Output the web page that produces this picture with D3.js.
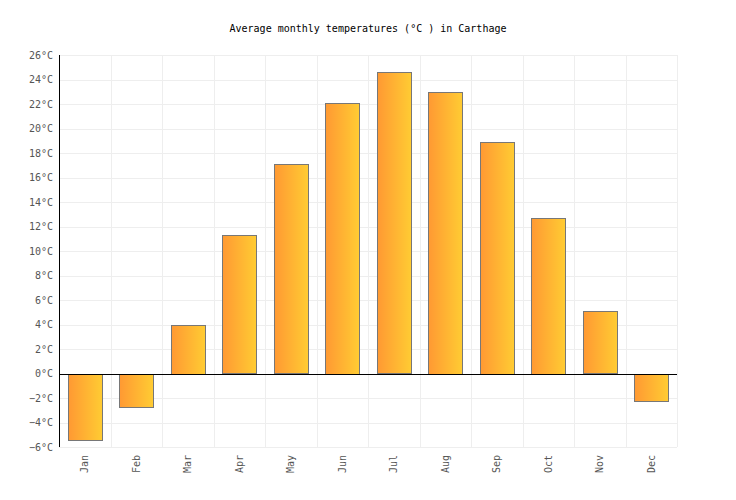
<!DOCTYPE html>
<html>
<head>
<meta charset="utf-8">
<script src="https://cdn.jsdelivr.net/npm/d3@7"></script>
<style>
  body { margin: 0; background: #fff; }
  text { font-family: "DejaVu Sans Mono", monospace; }
</style>
</head>
<body>
<div id="chart"></div>
<script>
// chart data
const months = ["Jan", "Feb", "Mar", "Apr", "May", "Jun", "Jul", "Aug", "Sep", "Oct", "Nov", "Dec"];
const temps = [-5.4, -2.7, 4.0, 11.3, 17.1, 22.1, 24.6, 23.0, 18.9, 12.7, 5.1, -2.2];
const yTicks = [-6, -4, -2, 0, 2, 4, 6, 8, 10, 12, 14, 16, 18, 20, 22, 24, 26];
const title = "Average monthly temperatures (°C ) in Carthage";

const W = 736, H = 500;
const margin = { top: 55, right: 59, bottom: 53, left: 59 };
const width = W - margin.left - margin.right;
const height = H - margin.top - margin.bottom;

const svg = d3.select("#chart").append("svg")
    .attr("width", W)
    .attr("height", H);

// gradient for bars
const grad = svg.append("defs").append("linearGradient")
    .attr("id", "barGrad")
    .attr("x1", "0%").attr("x2", "100%")
    .attr("y1", "0%").attr("y2", "0%");
grad.append("stop").attr("offset", "0%").attr("stop-color", "#ff9933");
grad.append("stop").attr("offset", "100%").attr("stop-color", "#ffcc33");

svg.append("text")
    .attr("x", W / 2)
    .attr("y", 32)
    .attr("text-anchor", "middle")
    .attr("font-size", 10)
    .attr("fill", "#000")
    .text(title);

const g = svg.append("g")
    .attr("transform", `translate(${margin.left},${margin.top})`);

// scales
const x = d3.scaleBand()
    .domain(months)
    .range([0, width])
    .paddingInner(0.34)
    .paddingOuter(0.17);

const y = d3.scaleLinear()
    .domain([-6, 26])
    .range([height, 0]);

// horizontal grid
g.append("g")
    .selectAll("line")
    .data(yTicks)
    .join("line")
    .attr("x1", 0).attr("x2", width)
    .attr("y1", d => Math.round(y(d)) + 0.5)
    .attr("y2", d => Math.round(y(d)) + 0.5)
    .attr("stroke", "#eeeeee");

// vertical grid at band edges
const step = width / months.length;
g.append("g")
    .selectAll("line")
    .data(d3.range(1, months.length + 1))
    .join("line")
    .attr("x1", i => Math.round(i * step) + 0.5)
    .attr("x2", i => Math.round(i * step) + 0.5)
    .attr("y1", 0).attr("y2", height)
    .attr("stroke", "#eeeeee");

// bars
g.append("g")
    .selectAll("rect")
    .data(temps)
    .join("rect")
    .attr("x", (d, i) => Math.round(x(months[i])) + 0.5)
    .attr("width", Math.round(x.bandwidth()))
    .attr("y", d => Math.round(y(Math.max(0, d))) + 0.5)
    .attr("height", d => Math.round(Math.abs(y(d) - y(0))))
    .attr("fill", "url(#barGrad)")
    .attr("stroke", "#777777")
    .attr("stroke-width", 1);

// y axis labels
const yAxis = d3.axisLeft(y)
    .tickValues(yTicks)
    .tickSize(0)
    .tickPadding(6)
    .tickFormat(d => (d < 0 ? "\u2212" + Math.abs(d) : d) + "°C");

g.append("g")
    .attr("class", "y-axis")
    .call(yAxis)
    .call(s => s.select(".domain").remove())
    .selectAll("text")
    .attr("font-size", 10)
    .attr("fill", "#555");

// y axis line
g.append("line")
    .attr("x1", 0.5).attr("x2", 0.5)
    .attr("y1", 0).attr("y2", height)
    .attr("stroke", "#000");

// zero line
g.append("line")
    .attr("x1", 0).attr("x2", width)
    .attr("y1", Math.round(y(0)) + 0.5)
    .attr("y2", Math.round(y(0)) + 0.5)
    .attr("stroke", "#000");

// x axis labels (rotated)
const xAxis = d3.axisBottom(x).tickSize(0).tickPadding(0);
g.append("g")
    .attr("class", "x-axis")
    .attr("transform", `translate(0,${height})`)
    .call(xAxis)
    .call(s => s.select(".domain").remove())
    .selectAll("text")
    .attr("font-size", 10)
    .attr("fill", "#555")
    .attr("text-anchor", "end")
    .attr("dy", "0.35em")
    .attr("transform", "translate(0,8) rotate(-90)")
    .attr("x", 0)
    .attr("y", 0);
</script>
</body>
</html>
